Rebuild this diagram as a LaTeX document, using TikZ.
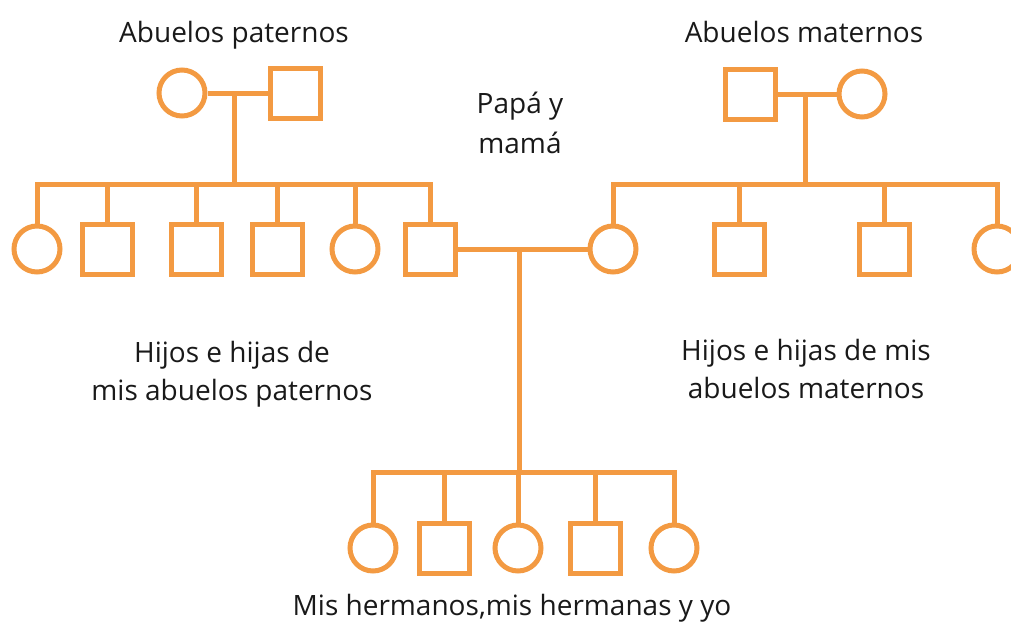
\documentclass[tikz,border=0pt]{standalone}
\usepackage{fontspec}
\setmainfont{Open Sans}
\definecolor{orng}{RGB}{243,154,66}
\definecolor{txt}{RGB}{25,25,25}
\begin{document}
\begin{tikzpicture}[x=1pt,y=-1pt,
  fem/.style={circle,draw=orng,line width=5pt,minimum size=46pt,inner sep=0pt},
  mal/.style={rectangle,draw=orng,line width=5pt,minimum size=50pt,inner sep=0pt},
  link/.style={draw=orng,line width=5pt},
  lbl/.style={text=txt,font=\fontsize{28pt}{34pt}\selectfont,anchor=base,inner sep=0pt}]
\useasboundingbox (0,0) rectangle (1011,629);
\clip (0,0) rectangle (1011,629);
% labels
\node[lbl] (t1) at (234,42) {Abuelos paternos};
\node[lbl] (t2) at (804,42) {Abuelos maternos};
\node[lbl] (t3a) at (520,113) {Papá y};
\node[lbl] (t3b) at (520,153) {mamá};
\node[lbl] (t4a) at (232,362) {Hijos e hijas de};
\node[lbl] (t4b) at (232,400) {mis abuelos paternos};
\node[lbl] (t5a) at (806,360) {Hijos e hijas de mis};
\node[lbl] (t5b) at (806,398) {abuelos maternos};
\node[lbl] (t6) at (512,615) {Mis hermanos,mis hermanas y yo};
% grandparents
\node[fem] (pgm) at (182,93) {};
\node[mal] (pgf) at (295,93) {};
\node[mal] (mgf) at (750,94) {};
\node[fem] (mgm) at (862,94) {};
% parents' generation
\node[fem] (p1) at (37,249) {};
\node[mal] (p2) at (107,249) {};
\node[mal] (p3) at (196,249) {};
\node[mal] (p4) at (277,249) {};
\node[fem] (p5) at (355,249) {};
\node[mal] (dad) at (430,249) {};
\node[fem] (mom) at (613,249) {};
\node[mal] (m2) at (739,249) {};
\node[mal] (m3) at (884,249) {};
\node[fem] (m4) at (997,249) {};
% siblings
\node[fem] (s1) at (373,548) {};
\node[mal] (s2) at (444,548) {};
\node[fem] (s3) at (518,548) {};
\node[mal] (s4) at (595,548) {};
\node[fem] (s5) at (674,548) {};
% junction coordinates
\coordinate (pj) at (234,93);
\coordinate (pbar) at (234,184);
\coordinate (mj) at (805,94);
\coordinate (mbar) at (805,184);
\coordinate (cj) at (519,250);
\coordinate (sbar) at (519,472);
% paternal
\draw[link] (pgm) -- (pgf);
\draw[link] (pj) -- (pbar);
\draw[link] (p1.north) -- (p1.north |- pbar) -- (dad.north |- pbar) -- (dad.north);
\foreach \n in {p2,p3,p4,p5} \draw[link] (\n.north) -- (\n.north |- pbar);
% maternal
\draw[link] (mgf) -- (mgm);
\draw[link] (mj) -- (mbar);
\draw[link] (mom.north) -- (mom.north |- mbar) -- (m4.north |- mbar) -- (m4.north);
\foreach \n in {m2,m3} \draw[link] (\n.north) -- (\n.north |- mbar);
% parents
\draw[link] (dad) -- (mom);
\draw[link] (cj) -- (sbar);
\draw[link] (s1.north) -- (s1.north |- sbar) -- (s5.north |- sbar) -- (s5.north);
\foreach \n in {s2,s3,s4} \draw[link] (\n.north) -- (\n.north |- sbar);
\end{tikzpicture}
\end{document}
